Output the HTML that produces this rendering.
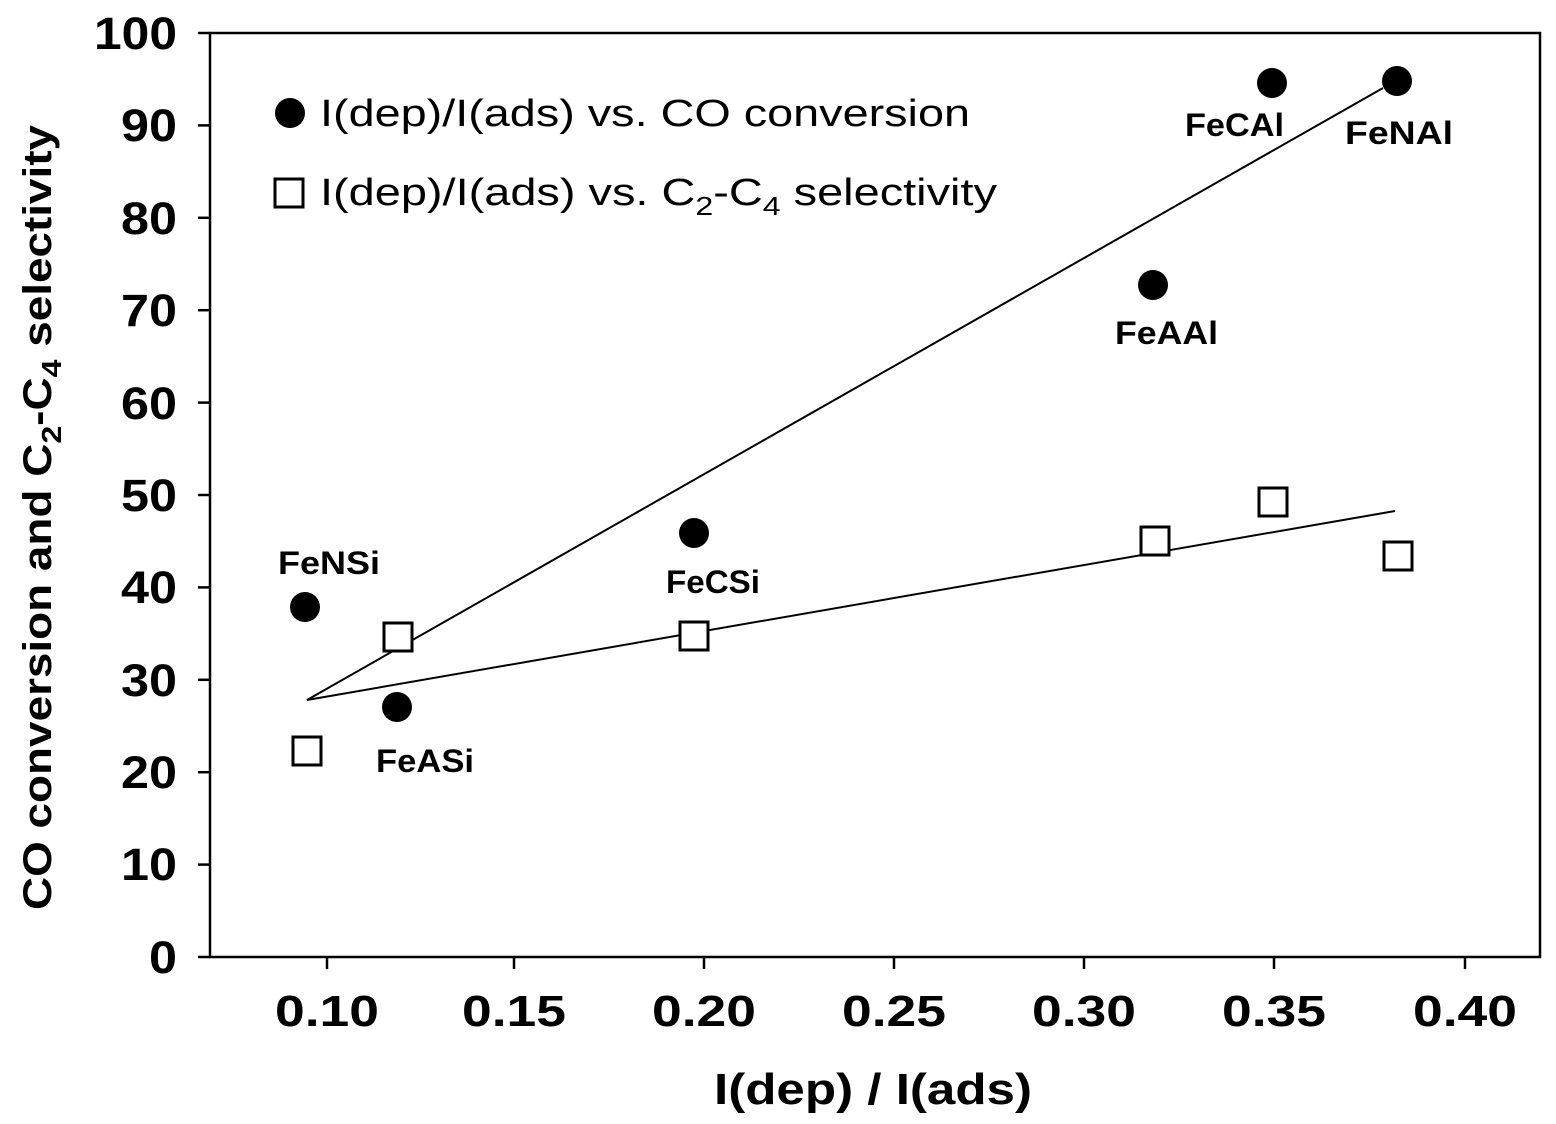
<!DOCTYPE html>
<html><head><style>body{margin:0;background:#fff}svg{display:block}</style></head><body>
<svg width="1556" height="1124" xmlns="http://www.w3.org/2000/svg" font-family="Liberation Sans, Arial, sans-serif">
<rect x="210" y="33" width="1330" height="924" fill="none" stroke="#000" stroke-width="2.5"/>
<g stroke="#000" stroke-width="2.5">
<line x1="198" y1="957" x2="210" y2="957"/><line x1="198" y1="864.6" x2="210" y2="864.6"/><line x1="198" y1="772.2" x2="210" y2="772.2"/><line x1="198" y1="679.8" x2="210" y2="679.8"/><line x1="198" y1="587.4" x2="210" y2="587.4"/><line x1="198" y1="495" x2="210" y2="495"/><line x1="198" y1="402.6" x2="210" y2="402.6"/><line x1="198" y1="310.2" x2="210" y2="310.2"/><line x1="198" y1="217.8" x2="210" y2="217.8"/><line x1="198" y1="125.4" x2="210" y2="125.4"/><line x1="198" y1="33" x2="210" y2="33"/>
<line x1="327" y1="957" x2="327" y2="969"/><line x1="514" y1="957" x2="514" y2="969"/><line x1="704" y1="957" x2="704" y2="969"/><line x1="894" y1="957" x2="894" y2="969"/><line x1="1084" y1="957" x2="1084" y2="969"/><line x1="1274" y1="957" x2="1274" y2="969"/><line x1="1465" y1="957" x2="1465" y2="969"/>
</g>
<g font-size="45" font-weight="bold" text-anchor="end">
<text x="177" y="973" textLength="28" lengthAdjust="spacingAndGlyphs">0</text>
<text x="177" y="880" textLength="56" lengthAdjust="spacingAndGlyphs">10</text>
<text x="177" y="788" textLength="56" lengthAdjust="spacingAndGlyphs">20</text>
<text x="177" y="696" textLength="56" lengthAdjust="spacingAndGlyphs">30</text>
<text x="177" y="603" textLength="56" lengthAdjust="spacingAndGlyphs">40</text>
<text x="177" y="511" textLength="56" lengthAdjust="spacingAndGlyphs">50</text>
<text x="177" y="419" textLength="56" lengthAdjust="spacingAndGlyphs">60</text>
<text x="177" y="326" textLength="56" lengthAdjust="spacingAndGlyphs">70</text>
<text x="177" y="234" textLength="56" lengthAdjust="spacingAndGlyphs">80</text>
<text x="177" y="141" textLength="56" lengthAdjust="spacingAndGlyphs">90</text>
<text x="177" y="49" textLength="83" lengthAdjust="spacingAndGlyphs">100</text>
</g>
<g font-size="44" font-weight="bold" text-anchor="middle">
<text x="327" y="1026" textLength="104" lengthAdjust="spacingAndGlyphs">0.10</text>
<text x="514" y="1026" textLength="104" lengthAdjust="spacingAndGlyphs">0.15</text>
<text x="704" y="1026" textLength="104" lengthAdjust="spacingAndGlyphs">0.20</text>
<text x="894" y="1026" textLength="104" lengthAdjust="spacingAndGlyphs">0.25</text>
<text x="1084" y="1026" textLength="104" lengthAdjust="spacingAndGlyphs">0.30</text>
<text x="1274" y="1026" textLength="104" lengthAdjust="spacingAndGlyphs">0.35</text>
<text x="1465" y="1026" textLength="104" lengthAdjust="spacingAndGlyphs">0.40</text>
<text x="873" y="1104" textLength="318" lengthAdjust="spacingAndGlyphs">I(dep) / I(ads)</text>
</g>
<text transform="translate(51,910) rotate(-90)" font-size="40" font-weight="bold" textLength="785" lengthAdjust="spacingAndGlyphs">CO conversion and C<tspan font-size="28" dy="10">2</tspan><tspan dy="-10">-C</tspan><tspan font-size="28" dy="10">4</tspan><tspan dy="-10"> selectivity</tspan></text>
<g stroke="#000" stroke-width="2">
<line x1="307" y1="700" x2="1383" y2="88"/>
<line x1="307" y1="700" x2="1395" y2="511"/>
</g>
<g fill="#000">
<circle cx="305" cy="607" r="15"/><circle cx="397" cy="707" r="15"/><circle cx="694" cy="533" r="15"/><circle cx="1153" cy="285" r="15"/><circle cx="1272" cy="83" r="15"/><circle cx="1397" cy="81" r="15"/>
<circle cx="290" cy="113" r="15"/>
</g>
<g fill="#fff" stroke="#000" stroke-width="3">
<rect x="293" y="737" width="28" height="28"/><rect x="384" y="623" width="28" height="28"/><rect x="680" y="622" width="28" height="28"/><rect x="1141" y="527" width="28" height="28"/><rect x="1259" y="488" width="28" height="28"/><rect x="1384" y="542" width="28" height="28"/>
<rect x="275" y="179" width="28" height="28"/>
</g>
<g font-size="32" font-weight="bold">
<text x="278" y="574" textLength="102" lengthAdjust="spacingAndGlyphs">FeNSi</text>
<text x="376" y="772" textLength="98" lengthAdjust="spacingAndGlyphs">FeASi</text>
<text x="666" y="593" textLength="94" lengthAdjust="spacingAndGlyphs">FeCSi</text>
<text x="1115" y="344" textLength="103" lengthAdjust="spacingAndGlyphs">FeAAl</text>
<text x="1185" y="136" textLength="99" lengthAdjust="spacingAndGlyphs">FeCAl</text>
<text x="1345" y="144" textLength="108" lengthAdjust="spacingAndGlyphs">FeNAl</text>
</g>
<g font-size="38">
<text x="320" y="126" textLength="650" lengthAdjust="spacingAndGlyphs">I(dep)/I(ads) vs. CO conversion</text>
<text x="320" y="205" textLength="677" lengthAdjust="spacingAndGlyphs">I(dep)/I(ads) vs. C<tspan font-size="26" dy="10">2</tspan><tspan dy="-10">-C</tspan><tspan font-size="26" dy="10">4</tspan><tspan dy="-10"> selectivity</tspan></text>
</g>
</svg>
</body></html>
